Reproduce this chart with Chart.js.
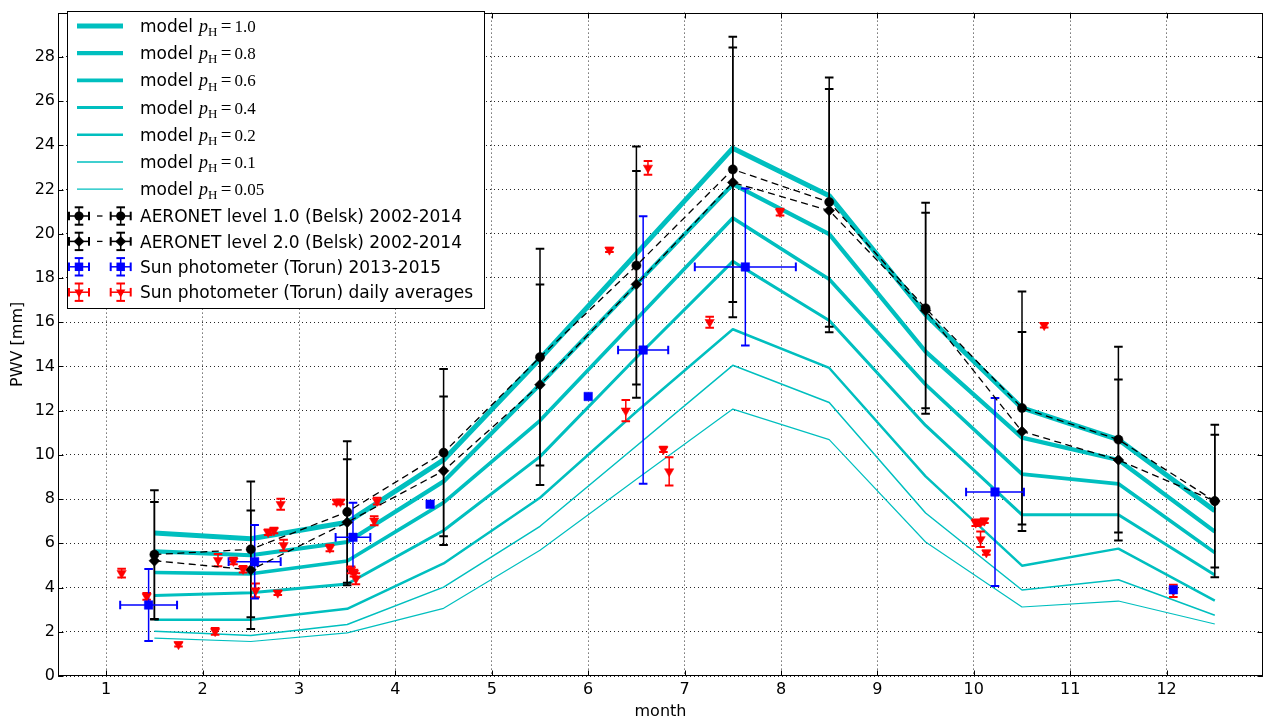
<!DOCTYPE html>
<html>
<head>
<meta charset="utf-8">
<title>PWV monthly means</title>
<script src="https://cdn.jsdelivr.net/npm/chart.js@4.4.1/dist/chart.umd.min.js"></script>
<style>
  html, body { margin: 0; padding: 0; background: #ffffff; }
  canvas { display: block; }
</style>
</head>
<body>
<canvas id="pwvChart" width="1270" height="722"></canvas>
<script>
// ---- data -------------------------------------------------------------
const months = [1.5, 2.5, 3.5, 4.5, 5.5, 6.5, 7.5, 8.5, 9.5, 10.5, 11.5, 12.5];
const monthTicks = [1, 2, 3, 4, 5, 6, 7, 8, 9, 10, 11, 12];
const pwvTicks = [0, 2, 4, 6, 8, 10, 12, 14, 16, 18, 20, 22, 24, 26, 28];

// model curves for different p_H
const pHLabels = ['1.0', '0.8', '0.6', '0.4', '0.2', '0.1', '0.05'];
const modelP100 = [6.47, 6.21, 6.95, 9.77, 14.35, 19.10, 23.87, 21.72, 16.35, 12.12, 10.69, 7.47];
const modelP080 = [5.64, 5.46, 6.06, 8.80, 13.18, 17.71, 22.24, 19.98, 14.67, 10.78, 9.77, 6.53];
const modelP060 = [4.68, 4.62, 5.20, 7.84, 11.55, 16.13, 20.71, 17.94, 13.18, 9.13, 8.69, 5.58];
const modelP040 = [3.64, 3.76, 4.16, 6.58, 9.92, 14.40, 18.75, 16.08, 11.33, 7.29, 7.29, 4.57];
const modelP020 = [2.54, 2.54, 3.04, 5.09, 8.06, 11.95, 15.68, 13.93, 9.03, 4.99, 5.76, 3.41];
const modelP010 = [2.02, 1.83, 2.33, 4.02, 6.77, 10.40, 14.05, 12.37, 7.37, 3.89, 4.35, 2.75];
const modelP005 = [1.71, 1.56, 1.95, 3.06, 5.69, 8.90, 12.07, 10.69, 6.06, 3.12, 3.39, 2.35];

// AERONET Belsk monthly means and standard deviations
const aeronetL1 = [5.49, 5.73, 7.42, 10.10, 14.42, 18.56, 22.91, 21.43, 16.63, 12.12, 10.69, 7.91];
const aeronetL1Err = [2.91, 3.07, 3.20, 3.78, 4.90, 5.38, 6.00, 5.64, 4.77, 5.27, 4.20, 3.45];
const aeronetL2 = [5.21, 4.80, 6.95, 9.28, 13.17, 17.71, 22.32, 21.05, 16.53, 11.06, 9.77, 7.91];
const aeronetL2Err = [2.66, 2.68, 2.85, 3.36, 4.53, 5.13, 6.10, 5.50, 4.42, 4.50, 3.64, 3.00];

// Sun photometer Torun 2013-2015 (monthly means)
const torunMonth = [1.44, 2.54, 3.56, 4.36, 6.00, 6.57, 7.63, 10.22, 12.07];
const torunPwv = [3.21, 5.17, 6.27, 7.77, 12.64, 14.74, 18.50, 8.32, 3.90];
const torunMonthErr = [0.295, 0.27, 0.18, 0, 0, 0.26, 0.524, 0.30, 0];
const torunPwvErr = [1.63, 1.66, 1.56, 0, 0, 6.05, 3.55, 4.25, 0];

// Sun photometer Torun daily averages
const dailyMonth = [1.16, 1.42, 1.75, 2.13, 2.16, 2.32, 2.42, 2.55, 2.68, 2.74, 2.78, 2.81,
  2.84, 3.32, 3.39, 3.43, 3.54, 3.57, 3.59, 3.78, 3.81, 6.22, 6.39, 6.62, 6.78, 6.84,
  7.26, 7.99, 10.02, 10.07, 10.11, 10.07, 10.13, 10.73, 12.07];
const dailyPwv = [4.65, 3.60, 1.43, 2.02, 5.24, 5.20, 4.83, 3.87, 6.50, 6.58, 3.76, 7.77,
  5.91, 5.79, 7.87, 7.87, 4.80, 4.65, 4.40, 7.02, 7.91, 19.27, 12.00, 22.98, 10.25, 9.25,
  16.00, 20.98, 6.93, 6.95, 7.02, 6.18, 5.58, 15.86, 3.85];
const dailyErr = [0.20, 0.15, 0.10, 0.15, 0.28, 0.15, 0.15, 0.31, 0.12, 0.12, 0.10, 0.25,
  0.25, 0.15, 0.10, 0.10, 0.15, 0.15, 0.25, 0.20, 0.15, 0.10, 0.48, 0.31, 0.12, 0.64,
  0.25, 0.15, 0.15, 0.10, 0.10, 0.35, 0.10, 0.10, 0.28];

// ---- styles -----------------------------------------------------------
const CYAN = 'rgb(0,191,191)';
const modelSeries = [modelP100, modelP080, modelP060, modelP040, modelP020, modelP010, modelP005];
const modelWidths = [5, 4.2, 3.6, 3, 2.5, 1.5, 1.2];

const toPoints = (xs, ys) => xs.map((x, i) => ({ x: x, y: ys[i] }));

const datasets = [];

// markers drawn last (lowest order is on top)
datasets.push({
  label: 'Sun photometer (Torun) 2013-2015',
  data: toPoints(torunMonth, torunPwv),
  showLine: false,
  pointStyle: 'rect', pointRadius: 6,
  pointBackgroundColor: '#0000ff', pointBorderColor: '#0000ff', pointBorderWidth: 0.5,
  order: 1,
  errorBars: { color: '#0000ff', xErr: torunMonthErr, yErr: torunPwvErr },
  legendKind: 'marker'
});
datasets.push({
  label: 'Sun photometer (Torun) daily averages',
  data: toPoints(dailyMonth, dailyPwv),
  showLine: false,
  pointStyle: 'triangle', pointRotation: 180, pointRadius: 5.4,
  pointBackgroundColor: '#ff0000', pointBorderColor: '#ff0000', pointBorderWidth: 0.5,
  order: 2,
  errorBars: { color: '#ff0000', xErr: null, yErr: dailyErr },
  legendKind: 'marker'
});
datasets.push({
  label: 'AERONET level 2.0 (Belsk) 2002-2014',
  data: toPoints(months, aeronetL2),
  borderColor: '#000000', borderWidth: 1.3, borderDash: [7, 4.5],
  pointStyle: 'rectRot', pointRadius: 5.4,
  pointBackgroundColor: '#000000', pointBorderColor: '#000000', pointBorderWidth: 0.5,
  order: 3,
  errorBars: { color: '#000000', xErr: null, yErr: aeronetL2Err },
  legendKind: 'marker', legendDash: true
});
datasets.push({
  label: 'AERONET level 1.0 (Belsk) 2002-2014',
  data: toPoints(months, aeronetL1),
  borderColor: '#000000', borderWidth: 1.3, borderDash: [7, 4.5],
  pointStyle: 'circle', pointRadius: 4.6,
  pointBackgroundColor: '#000000', pointBorderColor: '#000000', pointBorderWidth: 0.5,
  order: 4,
  errorBars: { color: '#000000', xErr: null, yErr: aeronetL1Err },
  legendKind: 'marker', legendDash: true,
  drawAllErrorBarsBefore: true
});
modelSeries.forEach((vals, k) => {
  datasets.push({
    label: 'model p_H=' + pHLabels[k],
    data: toPoints(months, vals),
    borderColor: CYAN, borderWidth: modelWidths[k],
    borderJoinStyle: 'round', borderCapStyle: 'butt',
    pointRadius: 0, pointHoverRadius: 0,
    order: 10 + k,
    legendKind: 'line', pH: pHLabels[k]
  });
});

// ---- plugins ----------------------------------------------------------
function strokeLine(ctx, x1, y1, x2, y2) {
  ctx.beginPath(); ctx.moveTo(x1, y1); ctx.lineTo(x2, y2); ctx.stroke();
}

function drawErrorBarShape(ctx, px, py, xLo, xHi, yLo, yHi, color, cap) {
  ctx.strokeStyle = color;
  ctx.lineWidth = 1.5;
  ctx.setLineDash([]);
  if (yLo !== null) strokeLine(ctx, px, yLo, px, yHi);
  if (xLo !== null) strokeLine(ctx, xLo, py, xHi, py);
  ctx.lineWidth = 2;
  if (yLo !== null) {
    strokeLine(ctx, px - cap, yLo, px + cap, yLo);
    strokeLine(ctx, px - cap, yHi, px + cap, yHi);
  }
  if (xLo !== null) {
    strokeLine(ctx, xLo, py - cap, xLo, py + cap);
    strokeLine(ctx, xHi, py - cap, xHi, py + cap);
  }
}

function drawErrorBarsFor(chart, ds) {
  const xs = chart.scales.x, ys = chart.scales.y, ctx = chart.ctx;
  const eb = ds.errorBars;
  ds.data.forEach((p, i) => {
    const px = xs.getPixelForValue(p.x), py = ys.getPixelForValue(p.y);
    const ey = eb.yErr ? eb.yErr[i] : 0;
    const ex = eb.xErr ? eb.xErr[i] : 0;
    const yLo = ey > 0 ? ys.getPixelForValue(p.y - ey) : null;
    const yHi = ey > 0 ? ys.getPixelForValue(p.y + ey) : null;
    const xLo = ex > 0 ? xs.getPixelForValue(p.x - ex) : null;
    const xHi = ex > 0 ? xs.getPixelForValue(p.x + ex) : null;
    drawErrorBarShape(ctx, px, py, xLo, xHi, yLo, yHi, eb.color, 4.3);
  });
}

const errorBarPlugin = {
  id: 'errorBars',
  beforeDatasetDraw(chart, args) {
    const ds = chart.data.datasets[args.index];
    if (!ds.drawAllErrorBarsBefore) return;
    const ctx = chart.ctx, a = chart.chartArea;
    ctx.save();
    ctx.beginPath();
    ctx.rect(a.left, a.top, a.right - a.left, a.bottom - a.top);
    ctx.clip();
    ['AERONET level 1.0 (Belsk) 2002-2014', 'AERONET level 2.0 (Belsk) 2002-2014',
     'Sun photometer (Torun) daily averages', 'Sun photometer (Torun) 2013-2015']
      .forEach(lbl => {
        const d = chart.data.datasets.find(s => s.label === lbl);
        if (d) drawErrorBarsFor(chart, d);
      });
    ctx.restore();
  }
};

const framePlugin = {
  id: 'frame',
  afterDatasetsDraw(chart) {
    const ctx = chart.ctx, a = chart.chartArea;
    const xs = chart.scales.x, ys = chart.scales.y;
    const L = Math.round(a.left) + 0.5, R = Math.round(a.right) - 0.5;
    const T = Math.round(a.top) + 0.5, B = Math.round(a.bottom) - 0.5;
    ctx.save();
    ctx.strokeStyle = '#000000';
    ctx.lineWidth = 1;
    ctx.setLineDash([]);
    // inward ticks on all four sides
    monthTicks.forEach(v => {
      const px = Math.round(xs.getPixelForValue(v)) + 0.5;
      strokeLine(ctx, px, B, px, B - 5);
      strokeLine(ctx, px, T, px, T + 5);
    });
    pwvTicks.forEach(v => {
      const py = Math.round(ys.getPixelForValue(v)) + 0.5;
      strokeLine(ctx, L, py, L + 5, py);
      strokeLine(ctx, R, py, R - 5, py);
    });
    ctx.strokeRect(L, T, R - L, B - T);
    ctx.restore();
  }
};

function drawMarker(ctx, style, x, y, r, color, rotation) {
  ctx.save();
  ctx.fillStyle = color;
  ctx.beginPath();
  if (style === 'circle') {
    ctx.arc(x, y, r, 0, Math.PI * 2);
  } else if (style === 'rectRot') {
    ctx.moveTo(x, y - r); ctx.lineTo(x + r, y); ctx.lineTo(x, y + r); ctx.lineTo(x - r, y);
    ctx.closePath();
  } else if (style === 'rect') {
    const s = Math.SQRT1_2 * r;
    ctx.rect(x - s, y - s, 2 * s, 2 * s);
  } else if (style === 'triangle') {
    let rad = (rotation || 0) * Math.PI / 180;
    for (let k = 0; k < 3; k++) {
      const px = x + Math.sin(rad) * r, py = y - Math.cos(rad) * r;
      if (k === 0) ctx.moveTo(px, py); else ctx.lineTo(px, py);
      rad += 2 * Math.PI / 3;
    }
    ctx.closePath();
  }
  ctx.fill();
  ctx.restore();
}

const legendPlugin = {
  id: 'boxLegend',
  afterDraw(chart) {
    const ctx = chart.ctx;
    const box = { x: 67.5, y: 11.5, w: 417, h: 297 };
    ctx.save();
    ctx.fillStyle = '#ffffff';
    ctx.fillRect(box.x, box.y, box.w, box.h);
    ctx.strokeStyle = '#000000';
    ctx.lineWidth = 1;
    ctx.setLineDash([]);
    ctx.strokeRect(box.x, box.y, box.w, box.h);

    const lineRows = chart.data.datasets.filter(d => d.legendKind === 'line');
    const markerOrder = ['AERONET level 1.0 (Belsk) 2002-2014', 'AERONET level 2.0 (Belsk) 2002-2014',
      'Sun photometer (Torun) 2013-2015', 'Sun photometer (Torun) daily averages'];
    const markerRows = markerOrder.map(l => chart.data.datasets.find(d => d.label === l));
    const textX = 140;

    lineRows.forEach((d, i) => {
      const cy = 26 + 27.2 * i;
      ctx.strokeStyle = d.borderColor;
      ctx.lineWidth = d.borderWidth;
      ctx.lineCap = 'butt';
      strokeLine(ctx, 77, cy, 123, cy);
      const base = cy + 5.9;
      ctx.fillStyle = '#000000';
      ctx.textBaseline = 'alphabetic';
      ctx.textAlign = 'left';
      ctx.font = '17px "DejaVu Sans"';
      ctx.fillText('model', textX, base);
      let x = textX + ctx.measureText('model').width + 6;
      ctx.font = 'italic 18px "Liberation Serif"';
      ctx.fillText('p', x, base);
      x += ctx.measureText('p').width;
      ctx.font = '13px "Liberation Serif"';
      ctx.fillText('H', x, base + 4.3);
      x += ctx.measureText('H').width + 3.5;
      ctx.font = '19px "Liberation Serif"';
      ctx.fillText('=', x, base);
      x += ctx.measureText('=').width + 3;
      ctx.font = '17px "Liberation Serif"';
      ctx.fillText(d.pH, x, base);
    });

    markerRows.forEach((d, i) => {
      const cy = 216 + 25.4 * i;
      const xsSample = [79, 120.7];
      if (d.legendDash) {
        ctx.strokeStyle = '#000000';
        ctx.lineWidth = 1.3;
        strokeLine(ctx, 97, cy, 102.5, cy);
      }
      xsSample.forEach(px => {
        drawErrorBarShape(ctx, px, cy, px - 10, px + 10, cy + 8.7, cy - 8.7, d.errorBars.color, 4.3);
        drawMarker(ctx, d.pointStyle, px, cy, d.pointRadius, d.pointBackgroundColor, d.pointRotation);
      });
      ctx.fillStyle = '#000000';
      ctx.font = '17px "DejaVu Sans"';
      ctx.textBaseline = 'alphabetic';
      ctx.textAlign = 'left';
      ctx.fillText(d.label, textX, cy + 6.1);
    });
    ctx.restore();
  }
};

// ---- chart ------------------------------------------------------------
Chart.defaults.font.family = '"DejaVu Sans"';
Chart.defaults.font.size = 16;
Chart.defaults.color = '#000000';

new Chart(document.getElementById('pwvChart'), {
  type: 'line',
  data: { datasets: datasets },
  options: {
    responsive: false,
    animation: false,
    events: [],
    layout: { padding: { top: 3, right: 7, left: 0, bottom: 0 } },
    elements: { line: { tension: 0, fill: false } },
    plugins: { legend: { display: false }, tooltip: { enabled: false } },
    scales: {
      x: {
        type: 'linear', min: 0.5, max: 13,
        afterBuildTicks: s => { s.ticks = monthTicks.map(v => ({ value: v })); },
        afterFit: s => { s.height = 46; },
        ticks: { autoSkip: false, maxRotation: 0, padding: 4, font: { size: 16 } },
        grid: { color: 'rgba(0,0,0,0.85)', lineWidth: 1, drawTicks: false },
        border: { display: false, dash: [1, 3] },
        title: { display: true, text: 'month', font: { size: 16 }, padding: { top: 0, bottom: 1 } }
      },
      y: {
        type: 'linear', min: 0, max: 30,
        afterBuildTicks: s => { s.ticks = pwvTicks.map(v => ({ value: v })); },
        afterFit: s => { s.width = 58; },
        ticks: { padding: 3, font: { size: 16 } },
        grid: { color: 'rgba(0,0,0,0.85)', lineWidth: 1, drawTicks: false },
        border: { display: false, dash: [1, 3] },
        title: { display: true, text: 'PWV [mm]', font: { size: 16 }, padding: { top: 8, bottom: 0 } }
      }
    }
  },
  plugins: [errorBarPlugin, framePlugin, legendPlugin]
});
</script>
</body>
</html>
